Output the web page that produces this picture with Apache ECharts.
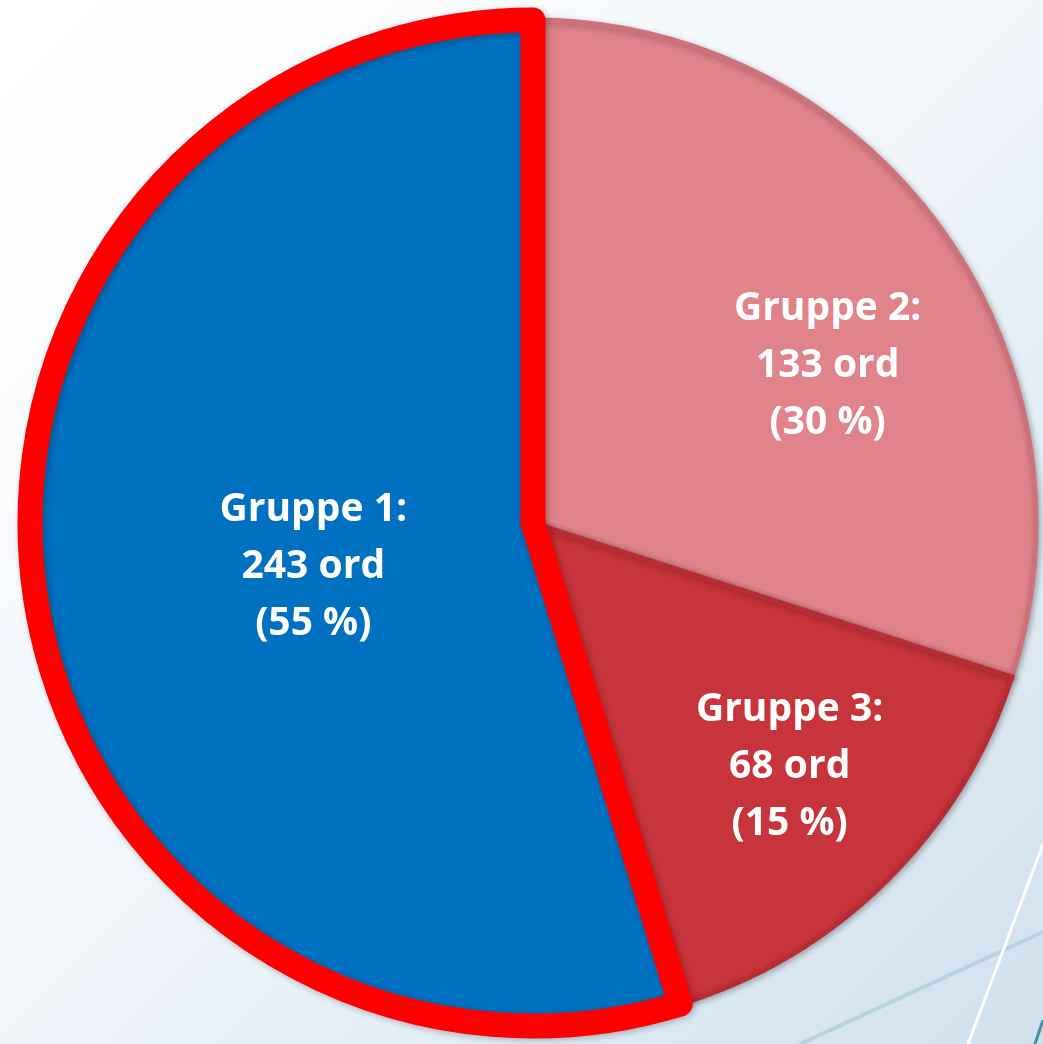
<!DOCTYPE html>
<html>
<head>
<meta charset="utf-8">
<script src="https://cdn.jsdelivr.net/npm/echarts@6/dist/echarts.min.js"></script>
<style>
    html, body { margin: 0; padding: 0; }
    #chart { width: 1043px; height: 1044px; }
</style>
</head>
<body>
<div id="chart"></div>
<script>
    // drawn clockwise from the top: Gruppe 2, Gruppe 3, then Gruppe 1 (last so its red border sits on top)
    var groupNames = ['Gruppe 2', 'Gruppe 3', 'Gruppe 1'];
    var wordCounts = [133, 68, 243];
    var percentLabels = ['30 %', '15 %', '55 %'];
    var sliceColors = ['#e0838a', '#c8343b', '#0070c0'];
    var sliceBorders = ['#cd717a', '#b72d35', '#ff0000'];
    var sliceBorderWidths = [5, 5, 25];
    // nudge labels away from the default mid-radius spot
    var labelShift = [[89, -7], [78, 63], [32, 6]];

    var myChart = echarts.init(document.getElementById('chart'));

    var pieData = [];
    for (var i = 0; i < groupNames.length; i++) {
        pieData.push({
            name: groupNames[i],
            value: wordCounts[i],
            pct: percentLabels[i],
            itemStyle: {
                color: sliceColors[i],
                borderColor: sliceBorders[i],
                borderWidth: sliceBorderWidths[i],
                borderJoin: i == 2 ? 'round' : 'miter'
            }
        });
    }

    var option = {
        backgroundColor: {
            type: 'linear', x: 0, y: 0, x2: 1, y2: 1,
            colorStops: [
                { offset: 0, color: '#ffffff' },
                { offset: 0.45, color: '#f3f7fb' },
                { offset: 1, color: '#d0e1ee' }
            ]
        },
        graphic: [
            { type: 'line', z: -1, shape: { x1: 1043, y1: 932, x2: 800, y2: 1044 }, style: { stroke: '#b6d3df', lineWidth: 4 } },
            { type: 'line', z: -1, shape: { x1: 1043, y1: 844, x2: 968, y2: 1044 }, style: { stroke: '#ffffff', lineWidth: 3 } },
            { type: 'line', z: -1, shape: { x1: 1043, y1: 1020, x2: 1035, y2: 1044 }, style: { stroke: '#4a8ea3', lineWidth: 3 } }
        ],
        series: [{
            type: 'pie',
            center: [533, 523],
            radius: 503,
            startAngle: 90,
            clockwise: true,
            animation: false,
            silent: true,
            itemStyle: {
                shadowColor: 'rgba(0,0,0,0.25)',
                shadowBlur: 6,
                shadowOffsetX: 2,
                shadowOffsetY: 2
            },
            label: {
                show: true,
                position: 'inside',
                color: '#ffffff',
                fontFamily: 'Open Sans',
                fontWeight: 'bold',
                fontSize: 39,
                lineHeight: 57,
                align: 'center',
                formatter: function (p) {
                    return p.name + ':\n' + p.value + ' ord\n(' + p.data.pct + ')';
                }
            },
            labelLayout: function (params) {
                var s = labelShift[params.dataIndex];
                return { dx: s[0], dy: s[1] };
            },
            labelLine: { show: false },
            data: pieData
        }]
    };
    myChart.setOption(option);
</script>
</body>
</html>
